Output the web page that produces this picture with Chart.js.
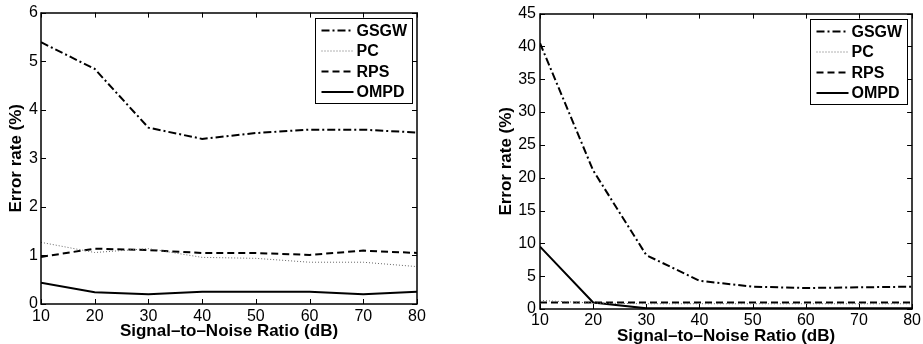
<!DOCTYPE html>
<html>
<head>
<meta charset="utf-8">
<script src="https://cdn.jsdelivr.net/npm/chart.js@4.4.1/dist/chart.umd.min.js"></script>
<style>
  html, body { margin: 0; padding: 0; background: #fff; }
  #wrap { position: relative; width: 923px; height: 344px; }
  .box { position: absolute; top: 0; height: 344px; }
</style>
</head>
<body>
<div id="wrap">
  <div class="box" style="left:0;width:460px"><canvas id="chartLeft"></canvas></div>
  <div class="box" style="left:460px;width:463px"><canvas id="chartRight"></canvas></div>
</div>
<script>
// SNR values (dB) on the x axis
var snr = [10, 20, 30, 40, 50, 60, 70, 80];
var seriesNames = ['GSGW', 'PC', 'RPS', 'OMPD'];

// left panel, error rate (%)
var gsgwLeft = [5.39, 4.84, 3.63, 3.40, 3.52, 3.59, 3.59, 3.53];
var pcLeft   = [1.27, 1.06, 1.14, 0.96, 0.94, 0.86, 0.86, 0.77];
var rpsLeft  = [0.97, 1.14, 1.11, 1.05, 1.05, 1.01, 1.10, 1.05];
var ompdLeft = [0.44, 0.24, 0.20, 0.25, 0.25, 0.25, 0.20, 0.25];

// right panel, error rate (%)
var gsgwRight = [40.5, 21.1, 8.2, 4.3, 3.4, 3.2, 3.3, 3.4];
var pcRight   = [1.3, 0.9, 0.8, 0.8, 0.8, 0.8, 0.8, 0.8];
var rpsRight  = [1.0, 1.0, 1.0, 1.0, 1.0, 1.0, 1.0, 1.0];
var ompdRight = [9.5, 1.0, 0.1, 0.1, 0.1, 0.1, 0.1, 0.1];

var fontFam = '"Liberation Sans", Arial, sans-serif';

var styles = [
    { borderDash: [8, 3, 2, 3], borderWidth: 2, borderColor: '#000' },
    { borderDash: [1, 2], borderWidth: 1, borderColor: '#666' },
    { borderDash: [7, 4], borderWidth: 2, borderColor: '#000' },
    { borderDash: [], borderWidth: 2, borderColor: '#000' }
];

function toPoints(arr) {
    return snr.map(function(x, i) { return { x: x, y: arr[i] }; });
}

function makeDatasets(lists) {
    return lists.map(function(arr, i) {
        return Object.assign({
            label: seriesNames[i],
            data: toPoints(arr),
            pointRadius: 0,
            tension: 0,
            fill: false
        }, styles[i]);
    });
}

// box, inward ticks and legend like a matlab figure
var matlabAxes = {
    id: 'matlabAxes',
    afterDatasetsDraw: function(chart, args, opts) {
        var ctx = chart.ctx, a = chart.chartArea;
        var x = chart.scales.x, y = chart.scales.y;
        var tl = 5;
        ctx.save();
        ctx.strokeStyle = '#000';
        ctx.lineWidth = 1;
        ctx.setLineDash([]);
        ctx.beginPath();
        x.ticks.forEach(function(t) {
            var px = Math.round(x.getPixelForValue(t.value)) + 0.5;
            ctx.moveTo(px, a.bottom); ctx.lineTo(px, a.bottom - tl);
            ctx.moveTo(px, a.top); ctx.lineTo(px, a.top + tl);
        });
        y.ticks.forEach(function(t) {
            var py = Math.round(y.getPixelForValue(t.value)) + 0.5;
            ctx.moveTo(a.left, py); ctx.lineTo(a.left + tl, py);
            ctx.moveTo(a.right, py); ctx.lineTo(a.right - tl, py);
        });
        ctx.stroke();
        ctx.lineWidth = 1.5;
        ctx.strokeRect(Math.round(a.left), Math.round(a.top), Math.round(a.width), Math.round(a.height));

        // legend
        var bw = 97, bh = 85;
        var bx = Math.round(a.right - opts.inset - bw) + 0.5;
        var by = Math.round(a.top + opts.insetTop) + 0.5;
        ctx.fillStyle = '#fff';
        ctx.fillRect(bx, by, bw, bh);
        ctx.lineWidth = 1;
        ctx.strokeRect(bx, by, bw, bh);
        ctx.font = 'bold 16px ' + fontFam;
        ctx.textBaseline = 'middle';
        chart.data.datasets.forEach(function(ds, i) {
            var ry = by + 12 + i * 20.5;
            ctx.beginPath();
            ctx.strokeStyle = ds.borderColor;
            ctx.lineWidth = ds.borderWidth;
            ctx.setLineDash(ds.borderDash);
            ctx.moveTo(bx + 6, ry);
            ctx.lineTo(bx + 38, ry);
            ctx.stroke();
            ctx.setLineDash([]);
            ctx.fillStyle = '#000';
            ctx.fillText(ds.label, bx + 41, ry + 1);
        });
        ctx.restore();
    }
};

function makeChart(id, lists, yMax, yStep, pad, yWidth, xHeight, tickPadX, tickPadY, titlePadBottom) {
    var ctx = document.getElementById(id);
    return new Chart(ctx, {
        type: 'line',
        data: { datasets: makeDatasets(lists) },
        plugins: [matlabAxes],
        options: {
            responsive: true,
            maintainAspectRatio: false,
            animation: false,
            layout: { padding: pad },
            plugins: {
                legend: { display: false },
                tooltip: { enabled: false },
                matlabAxes: { inset: 4.7, insetTop: 5 }
            },
            scales: {
                x: {
                    type: 'linear',
                    min: 10, max: 80,
                    border: { display: false },
                    grid: { display: false, drawTicks: false },
                    ticks: {
                        stepSize: 10, padding: tickPadX, color: '#000',
                        font: { family: fontFam, size: 16 }
                    },
                    title: {
                        display: true, text: 'Signal–to–Noise Ratio (dB)', color: '#000',
                        padding: { top: 0, bottom: titlePadBottom },
                        font: { family: fontFam, size: 17, weight: 'bold' }
                    },
                    afterFit: function(s) { s.height = xHeight; }
                },
                y: {
                    min: 0, max: yMax,
                    border: { display: false },
                    grid: { display: false, drawTicks: false },
                    ticks: {
                        stepSize: yStep, padding: tickPadY, color: '#000',
                        font: { family: fontFam, size: 16 }
                    },
                    title: {
                        display: true, text: 'Error rate (%)', color: '#000',
                        padding: 0,
                        font: { family: fontFam, size: 17, weight: 'bold' }
                    },
                    afterFit: function(s) { s.width = yWidth; }
                }
            }
        }
    });
}

makeChart('chartLeft', [gsgwLeft, pcLeft, rpsLeft, ompdLeft], 6, 1,
    { left: 6, right: 43, top: 12, bottom: 2 }, 35, 38, 3, 3, 0);
makeChart('chartRight', [gsgwRight, pcRight, rpsRight, ompdRight], 45, 5,
    { left: 36, right: 10, top: 12, bottom: 0 }, 44, 35, 2, 4, -3);
</script>
</body>
</html>
